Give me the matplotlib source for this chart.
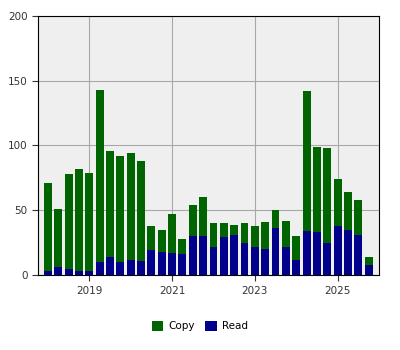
import matplotlib.pyplot as plt
import numpy as np

# quarterly periods, 2018 Q1 .. 2025 Q4
periods = [2018 + q * 0.25 for q in range(32)]
total = [71, 51, 78, 82, 79, 143, 96, 92, 94, 88, 38, 35, 47, 28, 54, 60,
         40, 40, 39, 40, 38, 41, 50, 42, 30, 142, 99, 98, 74, 64, 58, 14]
read = [3, 6, 5, 3, 3, 10, 14, 10, 12, 11, 19, 18, 17, 16, 30, 30,
        22, 29, 31, 25, 22, 20, 36, 22, 12, 34, 33, 25, 38, 35, 31, 8]
copy = [t - r for t, r in zip(total, read)]

fig = plt.figure(figsize=(4, 3.5), dpi=100)
ax = fig.add_axes([0.095, 0.214, 0.8525, 0.741])
ax.set_facecolor('#EFEFEF')

ax.bar(periods, read, width=0.19, color='#00008B', label='Read', zorder=3)
ax.bar(periods, copy, width=0.19, bottom=read, color='#006400', label='Copy', zorder=3)

ax.set_xlim(2017.76, 2026.0)
ax.set_ylim(0, 200)
ax.set_xticks([2019, 2021, 2023, 2025])
ax.set_yticks([0, 50, 100, 150, 200])
ax.tick_params(labelsize=7.5, colors='#333333', length=4)
ax.grid(True, color='#A8A8A8', linewidth=0.8, zorder=0)
for s in ax.spines.values():
    s.set_color('black')

handles, labels = ax.get_legend_handles_labels()
fig.legend(handles[::-1], labels[::-1], loc='center', bbox_to_anchor=(0.5, 0.068),
           ncol=2, frameon=False, fontsize=7.5, handlelength=1.1, handleheight=1.1,
           columnspacing=1.0, handletextpad=0.5)

fig.savefig('out.png', dpi=100)
